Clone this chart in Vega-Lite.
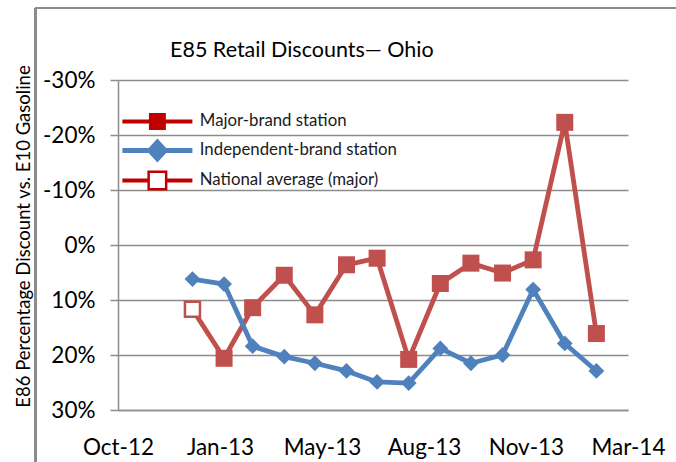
{
  "$schema": "https://vega.github.io/schema/vega-lite/v6.json",
  "width": 510,
  "height": 330,
  "autosize": {"type": "none"},
  "padding": {"left": 118, "top": 80, "right": 48, "bottom": 52},
  "background": "white",
  "title": {
    "text": "E85 Retail Discounts— Ohio",
    "anchor": "start",
    "frame": "group",
    "dx": 52,
    "offset": 8,
    "dy": 79,
    "font": "Lato",
    "fontSize": 21.5,
    "fontWeight": "normal",
    "color": "#000000",
    "baseline": "alphabetic"
  },
  "data": {
    "values": [
      {"date": "2013-01-01", "series": "Major-brand station", "discount_pct": 11.7},
      {"date": "2013-02-01", "series": "Major-brand station", "discount_pct": 20.6},
      {"date": "2013-03-01", "series": "Major-brand station", "discount_pct": 11.4},
      {"date": "2013-04-01", "series": "Major-brand station", "discount_pct": 5.5},
      {"date": "2013-05-01", "series": "Major-brand station", "discount_pct": 12.7},
      {"date": "2013-06-01", "series": "Major-brand station", "discount_pct": 3.6},
      {"date": "2013-07-01", "series": "Major-brand station", "discount_pct": 2.4},
      {"date": "2013-08-01", "series": "Major-brand station", "discount_pct": 20.8},
      {"date": "2013-09-01", "series": "Major-brand station", "discount_pct": 7.0},
      {"date": "2013-10-01", "series": "Major-brand station", "discount_pct": 3.3},
      {"date": "2013-11-01", "series": "Major-brand station", "discount_pct": 5.1},
      {"date": "2013-12-01", "series": "Major-brand station", "discount_pct": 2.7},
      {"date": "2014-01-01", "series": "Major-brand station", "discount_pct": -22.3},
      {"date": "2014-02-01", "series": "Major-brand station", "discount_pct": 16.1},
      {"date": "2013-01-01", "series": "Independent-brand station", "discount_pct": 6.2},
      {"date": "2013-02-01", "series": "Independent-brand station", "discount_pct": 7.1},
      {"date": "2013-03-01", "series": "Independent-brand station", "discount_pct": 18.4},
      {"date": "2013-04-01", "series": "Independent-brand station", "discount_pct": 20.3},
      {"date": "2013-05-01", "series": "Independent-brand station", "discount_pct": 21.5},
      {"date": "2013-06-01", "series": "Independent-brand station", "discount_pct": 22.9},
      {"date": "2013-07-01", "series": "Independent-brand station", "discount_pct": 24.9},
      {"date": "2013-08-01", "series": "Independent-brand station", "discount_pct": 25.1},
      {"date": "2013-09-01", "series": "Independent-brand station", "discount_pct": 18.8},
      {"date": "2013-10-01", "series": "Independent-brand station", "discount_pct": 21.5},
      {"date": "2013-11-01", "series": "Independent-brand station", "discount_pct": 20.0},
      {"date": "2013-12-01", "series": "Independent-brand station", "discount_pct": 8.1},
      {"date": "2014-01-01", "series": "Independent-brand station", "discount_pct": 17.9},
      {"date": "2014-02-01", "series": "Independent-brand station", "discount_pct": 22.9},
      {"date": "2013-01-01", "series": "National average (major)", "discount_pct": 11.7}
    ]
  },
  "encoding": {
    "x": {
      "field": "date",
      "type": "temporal",
      "scale": {
        "type": "utc",
        "domain": [
          {"year": 2012, "month": 10, "date": 20, "utc": true},
          {"year": 2014, "month": 3, "date": 4, "utc": true}
        ]
      },
      "axis": {
        "title": null,
        "values": [
          {"year": 2012, "month": 10, "date": 20, "utc": true},
          {"year": 2013, "month": 1, "date": 28, "utc": true},
          {"year": 2013, "month": 5, "date": 8, "utc": true},
          {"year": 2013, "month": 8, "date": 16, "utc": true},
          {"year": 2013, "month": 11, "date": 24, "utc": true},
          {"year": 2014, "month": 3, "date": 4, "utc": true}
        ],
        "labelExpr": "utcFormat(datum.value, '%b-%y')",
        "grid": false,
        "ticks": false,
        "tickSize": 0,
        "domain": true,
        "domainColor": "#8c8c8c",
        "domainWidth": 1.5,
        "labelFont": "Lato",
        "labelFontSize": 22.5,
        "labelColor": "#000000",
        "labelPadding": 26,
        "labelFlush": false,
        "labelOverlap": false,
        "labelBound": false
      }
    },
    "y": {
      "field": "discount_pct",
      "type": "quantitative",
      "scale": {"domain": [-30, 30], "reverse": true, "nice": false, "zero": false},
      "axis": {
        "title": "E86 Percentage Discount vs. E10 Gasoline",
        "titleFont": "Lato",
        "titleFontSize": 18.5,
        "titleFontWeight": "normal",
        "titleColor": "#000000",
        "titleX": -95,
        "titleY": 156,
        "titleAngle": 270,
        "titleAlign": "center",
        "titleBaseline": "middle",
        "values": [-30, -20, -10, 0, 10, 20, 30],
        "labelExpr": "datum.value + '%'",
        "grid": true,
        "gridColor": "#8c8c8c",
        "gridWidth": 1.5,
        "domain": true,
        "domainColor": "#8c8c8c",
        "domainWidth": 1.5,
        "ticks": true,
        "tickColor": "#8c8c8c",
        "tickWidth": 1.5,
        "tickSize": 8,
        "labelFont": "Lato",
        "labelFontSize": 22.5,
        "labelColor": "#000000",
        "labelPadding": 15,
        "labelFlush": false,
        "labelOverlap": false
      }
    }
  },
  "layer": [
    {
      "mark": {"type": "rule", "color": "#8c8c8c", "strokeWidth": 1.5},
      "encoding": {
        "x": {"datum": {"year": 2012, "month": 7, "date": 31, "utc": true}, "type": "temporal"},
        "x2": {"datum": {"year": 2014, "month": 5, "date": 1, "utc": true}},
        "y": {"datum": -43.1, "type": "quantitative"}
      }
    },
    {
      "mark": {"type": "rule", "color": "#8c8c8c", "strokeWidth": 1.5},
      "encoding": {
        "x": {"datum": {"year": 2012, "month": 7, "date": 31, "utc": true}, "type": "temporal"},
        "y": {"datum": -43.1, "type": "quantitative"},
        "y2": {"datum": 42}
      }
    },
    {
      "transform": [{"filter": "datum.series === 'Major-brand station'"}],
      "mark": {"type": "line", "color": "#C0504D", "strokeWidth": 4.8, "strokeJoin": "round"}
    },
    {
      "transform": [{"filter": "datum.series === 'Major-brand station'"}],
      "mark": {"type": "point", "shape": "square", "filled": true, "size": 289, "color": "#C0504D", "opacity": 1}
    },
    {
      "transform": [{"filter": "datum.series === 'Independent-brand station'"}],
      "mark": {"type": "line", "color": "#4F81BD", "strokeWidth": 4.8, "strokeJoin": "round"}
    },
    {
      "transform": [{"filter": "datum.series === 'Independent-brand station'"}],
      "mark": {"type": "point", "shape": "diamond", "filled": true, "size": 250, "color": "#4F81BD", "opacity": 1}
    },
    {
      "transform": [{"filter": "datum.series === 'National average (major)'"}],
      "mark": {"type": "point", "shape": "square", "filled": true, "size": 225, "fill": "white", "stroke": "#C0504D", "strokeWidth": 2.5, "opacity": 1}
    },
    {
      "transform": [{"filter": "false"}],
      "mark": {"type": "point", "filled": true, "size": 256, "opacity": 1},
      "encoding": {
        "shape": {
          "field": "series",
          "type": "nominal",
          "scale": {
            "domain": ["Major-brand station", "Independent-brand station", "National average (major)"],
            "range": [
              "M-4.375,-0.25H-1.06V-1.06H1.06V-0.25H4.375V0.25H1.06V1.06H-1.06V0.25H-4.375Z",
              "M-4.375,-0.31H-1.09L0,-1.5L1.09,-0.31H4.375V0.31H1.09L0,1.5L-1.09,0.31H-4.375Z",
              "M-4.375,-0.25H-1.25V0.25H-4.375Z M1.25,-0.25H4.375V0.25H1.25Z M-1.25,-1.25H1.25V1.25H-1.25Z M-0.94,-0.94V0.94H0.94V-0.94Z"
            ]
          },
          "legend": {
            "title": null,
            "orient": "none",
            "legendX": 31,
            "legendY": 33,
            "padding": 0,
            "symbolSize": 256,
            "symbolStrokeWidth": 0,
            "symbolOpacity": 1,
            "labelFont": "Lato",
            "labelFontSize": 16.8,
            "labelColor": "#1a1a1a",
            "labelOffset": 34,
            "labelLimit": 400,
            "rowPadding": 7
          }
        },
        "fill": {
          "field": "series",
          "type": "nominal",
          "scale": {
            "domain": ["Major-brand station", "Independent-brand station", "National average (major)"],
            "range": ["#C00000", "#4F81BD", "#C00000"]
          },
          "legend": {
            "title": null,
            "orient": "none",
            "legendX": 31,
            "legendY": 33,
            "padding": 0,
            "symbolSize": 256,
            "symbolStrokeWidth": 0,
            "symbolOpacity": 1,
            "labelFont": "Lato",
            "labelFontSize": 16.8,
            "labelColor": "#1a1a1a",
            "labelOffset": 34,
            "labelLimit": 400,
            "rowPadding": 7
          }
        }
      }
    }
  ],
  "config": {
    "view": {"stroke": null},
    "font": "Lato"
  }
}
